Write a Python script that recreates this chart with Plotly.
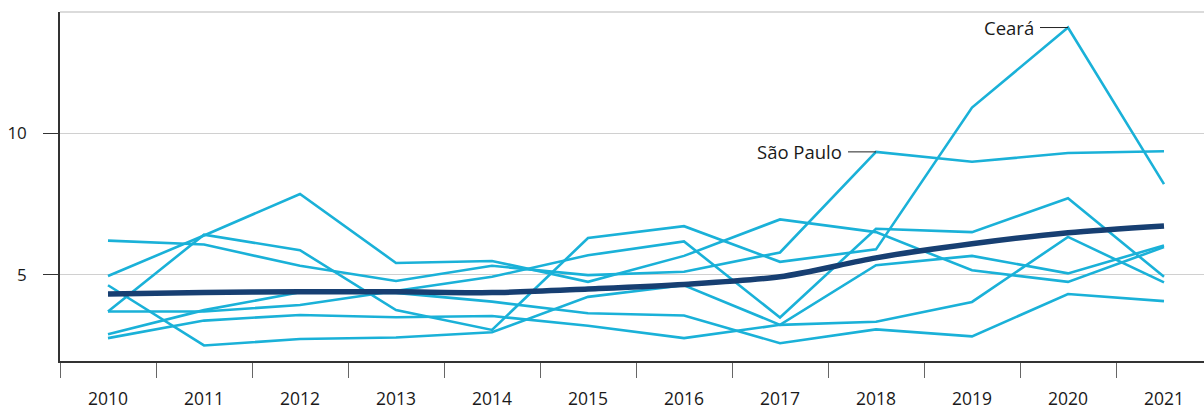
import plotly.graph_objects as go

years = ["2010", "2011", "2012", "2013", "2014", "2015", "2016", "2017", "2018", "2019", "2020", "2021"]

sao_paulo = [6.21, 6.07, 5.32, 4.78, 5.32, 4.99, 5.11, 5.79, 9.35, 9.00, 9.31, 9.37]
ceara     = [3.70, 6.42, 5.87, 3.75, 3.05, 6.30, 6.72, 5.46, 5.90, 10.92, 13.75, 8.21]
state_b   = [4.96, 6.39, 7.86, 5.42, 5.49, 4.75, 5.67, 6.96, 6.51, 5.16, 4.75, 5.98]
state_c   = [4.63, 2.50, 2.73, 2.78, 2.97, 4.22, 4.63, 3.23, 5.34, 5.67, 5.05, 6.04]
state_d   = [3.70, 3.70, 3.93, 4.42, 4.93, 5.69, 6.18, 3.49, 6.63, 6.51, 7.71, 4.93]
state_f   = [2.90, 3.75, 4.38, 4.36, 4.05, 3.64, 3.56, 2.58, 3.07, 2.82, 4.32, 4.07]
state_g   = [2.76, 3.38, 3.58, 3.50, 3.54, 3.20, 2.76, 3.23, 3.34, 4.04, 6.34, 4.73]
brasil    = [4.32, 4.37, 4.40, 4.40, 4.37, 4.50, 4.66, 4.93, 5.60, 6.10, 6.49, 6.73]

y_ticks = [5, 10]

LIGHT = "#1AB1D8"
DARK = "#173F72"
FONT = "Open Sans"

fig = go.Figure()

for name, vals in [("São Paulo", sao_paulo), ("Ceará", ceara), ("B", state_b),
                   ("C", state_c), ("D", state_d), ("F", state_f), ("G", state_g)]:
    fig.add_trace(go.Scatter(x=years, y=vals, mode="lines", name=name,
                             line=dict(color=LIGHT, width=2.6), showlegend=False,
                             hoverinfo="skip"))

fig.add_trace(go.Scatter(x=years, y=brasil, mode="lines", name="Brasil",
                         line=dict(color=DARK, width=5.5, shape="spline", smoothing=0.8),
                         showlegend=False, hoverinfo="skip"))

sp_i = years.index("2018")
ce_i = years.index("2020")
for idx, vals, label in [(sp_i, sao_paulo, "São Paulo"), (ce_i, ceara, "Ceará")]:
    fig.add_annotation(x=idx, y=vals[idx], text=label, showarrow=True,
                       arrowhead=0, arrowwidth=1, arrowcolor="#222", ax=-32, ay=0,
                       startstandoff=4, xanchor="right", yanchor="middle", borderpad=1,
                       font=dict(family=FONT, size=18.5, color="#1a1a1a"))

fig.add_shape(type="line", xref="paper", yref="paper", x0=0, x1=1, y0=1, y1=1,
              line=dict(color="#cfcfcf", width=1.5))

fig.update_layout(
    width=1204, height=410,
    margin=dict(l=60, r=0, t=12, b=47),
    paper_bgcolor="white", plot_bgcolor="white",
    font=dict(family=FONT, color="#1a1a1a"),
    xaxis=dict(type="category", categoryorder="array", categoryarray=years,
               range=[-0.5, 11.4167], tickson="boundaries", ticks="outside",
               ticklen=15, tickwidth=1, tickcolor="#666", showgrid=False,
               showline=True, linecolor="#333", linewidth=1.5,
               ticklabelstandoff=21,
               tickfont=dict(family=FONT, size=17.5, color="#1a1a1a")),
    yaxis=dict(range=[1.95, 14.3], tickvals=y_ticks, ticks="outside", ticklen=15,
               tickwidth=1, tickcolor="#333", showgrid=True, gridcolor="#d0d0d0",
               gridwidth=1, showline=True, linecolor="#333", linewidth=1.5,
               zeroline=False, ticklabelstandoff=13,
               tickfont=dict(family=FONT, size=17, color="#1a1a1a")),
)

fig.write_html("out.html", config={"displayModeBar": False},
               post_script="document.body.style.margin='0';")
